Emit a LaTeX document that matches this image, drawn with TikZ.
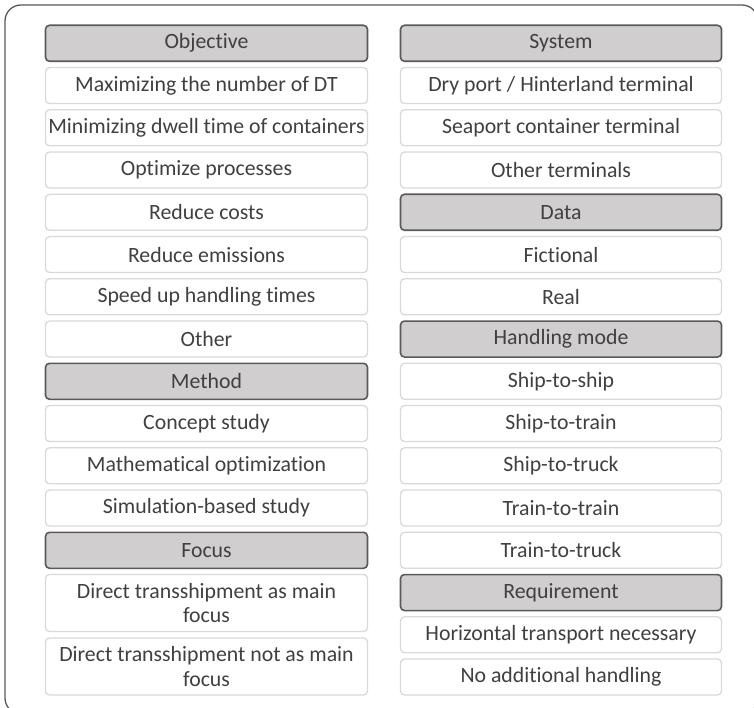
\documentclass[tikz,border=0pt]{standalone}
\usepackage{fontspec}
\setmainfont[Ligatures={NoCommon}]{Carlito}
\definecolor{headfill}{RGB}{208,206,206}
\definecolor{headline}{RGB}{89,89,89}
\definecolor{itemline}{RGB}{217,217,217}
\definecolor{txt}{RGB}{64,64,64}
\begin{document}
\begin{tikzpicture}[x=1pt,y=-1pt,
    header/.style={draw=headline,line width=1.6pt,fill=headfill,rounded corners=4pt,minimum height=36pt,text=txt,font=\fontsize{21.8}{24.5}\selectfont,inner sep=0pt},
    item/.style={draw=itemline,line width=1.3pt,fill=white,rounded corners=4pt,minimum height=36pt,text=txt,font=\fontsize{21.8}{24.5}\selectfont,inner sep=0pt,align=center},
    leftcol/.style={minimum width=322pt},
    rightcol/.style={minimum width=321pt}]
    \useasboundingbox (0,0) rectangle (754,708);
    \clip (0,0) rectangle (754,708);
    \draw [draw=headline,line width=1.3pt,rounded corners=16pt] (5,5) rectangle (758,714);
    % left column
    \node (hObjective) at (206.5,43.3) [header,leftcol] {Objective};
    \node (oMax) at (206.5,85.55) [item,leftcol] {Maximizing the number of DT};
    \node (oDwell) at (206.5,127.8) [item,leftcol] {Minimizing dwell time of containers};
    \node (oProc) at (206.5,170.05) [item,leftcol] {Optimize processes};
    \node (oCost) at (206.5,212.3) [item,leftcol] {Reduce costs};
    \node (oEmis) at (206.5,254.55) [item,leftcol] {Reduce emissions};
    \node (oSpeed) at (206.5,296.8) [item,leftcol] {Speed up handling times};
    \node (oOther) at (206.5,339.05) [item,leftcol] {Other};
    \node (hMethod) at (206.5,381.3) [header,leftcol] {Method};
    \node (mConcept) at (206.5,423.55) [item,leftcol] {Concept study};
    \node (mMath) at (206.5,465.8) [item,leftcol] {Mathematical optimization};
    \node (mSim) at (206.5,508.05) [item,leftcol] {Simulation-based study};
    \node (hFocus) at (206.5,550.3) [header,leftcol] {Focus};
    \node (fMain) at (206.5,603) [item,leftcol,minimum height=57pt] {Direct transshipment as main\\focus};
    \node (fNot) at (206.5,666.5) [item,leftcol,minimum height=57pt] {Direct transshipment not as main\\focus};
    % right column
    \node (hSystem) at (561,43.3) [header,rightcol] {System};
    \node (sDry) at (561,85.55) [item,rightcol] {Dry port / Hinterland terminal};
    \node (sSea) at (561,127.8) [item,rightcol] {Seaport container terminal};
    \node (sOther) at (561,170.05) [item,rightcol] {Other terminals};
    \node (hData) at (561,212.3) [header,rightcol] {Data};
    \node (dFict) at (561,254.55) [item,rightcol] {Fictional};
    \node (dReal) at (561,296.8) [item,rightcol] {Real};
    \node (hMode) at (561,339.05) [header,rightcol] {Handling mode};
    \node (hmShip) at (561,381.3) [item,rightcol] {Ship-to-ship};
    \node (hmTrain) at (561,423.55) [item,rightcol] {Ship-to-train};
    \node (hmTruck) at (561,465.8) [item,rightcol] {Ship-to-truck};
    \node (hmTT) at (561,508.05) [item,rightcol] {Train-to-train};
    \node (hmTK) at (561,550.3) [item,rightcol] {Train-to-truck};
    \node (hReq) at (561,592.55) [header,rightcol] {Requirement};
    \node (rHor) at (561,634.8) [item,rightcol] {Horizontal transport necessary};
    \node (rNo) at (561,677.05) [item,rightcol] {No additional handling};
\end{tikzpicture}
\end{document}
